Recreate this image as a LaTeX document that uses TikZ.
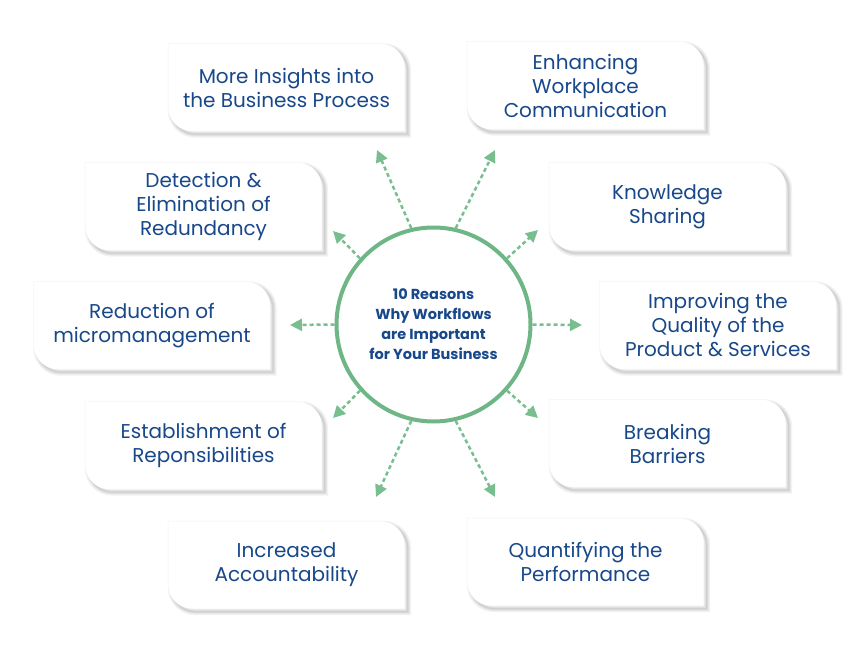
\documentclass[tikz,border=0pt]{standalone}
\usepackage{fontspec}
\setmainfont{Poppins}
\definecolor{wfblue}{RGB}{24,72,138}
\definecolor{wfgreen}{RGB}{110,182,134}
\definecolor{wfarrow}{RGB}{120,190,142}
\usetikzlibrary{arrows.meta,backgrounds}

% leaf shaped outline of a reason box, shifted by #2
\newcommand\leafpath[2]{([shift={(#2)}]#1.north west) -- ([shift={(#2)},xshift=-24pt]#1.north east) arc[start angle=90,end angle=0,radius=24pt] -- ([shift={(#2)}]#1.south east) -- ([shift={(#2)},xshift=24pt]#1.south west) arc[start angle=270,end angle=180,radius=24pt] -- cycle}

\begin{document}
\begin{tikzpicture}[x=1pt, y=1pt,
  reason/.style={minimum width=236pt, minimum height=87pt, inner sep=0pt, align=center,
    text=wfblue, font=\fontsize{20}{24}\selectfont},
  spoke/.style={wfarrow, line width=2.5pt, dash pattern=on 4pt off 3pt,
    -{Triangle[length=12pt, width=12pt]}}]
\useasboundingbox (0,0) rectangle (866,648);
% Hub
\node[circle, draw=wfgreen, line width=4pt, minimum size=194pt, align=center, text=wfblue,
  font=\bfseries\fontsize{14.5}{20}\selectfont] (hub) at (433.5,323.5)
  {10 Reasons\\Why Workflows\\are Important\\for Your Business};
% Reason boxes
\foreach \n/\x/\y/\txt in {
  r1/286.5/560.5/{More Insights into\\the Business Process},
  r2/585.5/562.5/{Enhancing\\Workplace\\Communication},
  r3/203.5/441.5/{Detection \&\\Elimination of\\Redundancy},
  r4/667.5/441.5/{Knowledge\\Sharing},
  r5/152/322.5/{Reduction of\\micromanagement},
  r6/718/322.5/{Improving the\\Quality of the\\Product \& Services},
  r7/203.5/202.5/{Establishment of\\Reponsibilities},
  r8/667.5/204.5/{Breaking\\Barriers},
  r9/286.5/83/{Increased\\Accountability},
  r10/585.5/86/{Quantifying the\\Performance}} {
  \node[reason] (\n) at (\x,\y) {\txt};
}
% Box backgrounds with soft shadow
\begin{scope}[on background layer]
\foreach \n in {r1,r2,r3,r4,r5,r6,r7,r8,r9,r10} {
  \foreach \w in {7,4.5,2.5,1}
    \draw[black, opacity=0.05, line width=\w pt] \leafpath{\n}{3pt,-3pt};
  \fill[white] \leafpath{\n}{0pt,0pt};
}
\end{scope}
% Arrow tips
\coordinate (t1) at (377,498);
\coordinate (t2) at (495,498);
\coordinate (t3) at (333,417);
\coordinate (t4) at (538,418);
\coordinate (t5) at (290,323);
\coordinate (t6) at (582,323);
\coordinate (t7) at (333,230);
\coordinate (t8) at (538,230);
\coordinate (t9) at (376,151);
\coordinate (t10) at (495,151);
% Spokes
\foreach \a/\t in {103/t1, 77/t2, 138/t3, 42/t4, 180/t5, 0/t6, 222/t7, 318/t8, 257/t9, 283/t10} {
  \draw[spoke] (hub.\a) -- (\t);
}
\end{tikzpicture}
\end{document}
